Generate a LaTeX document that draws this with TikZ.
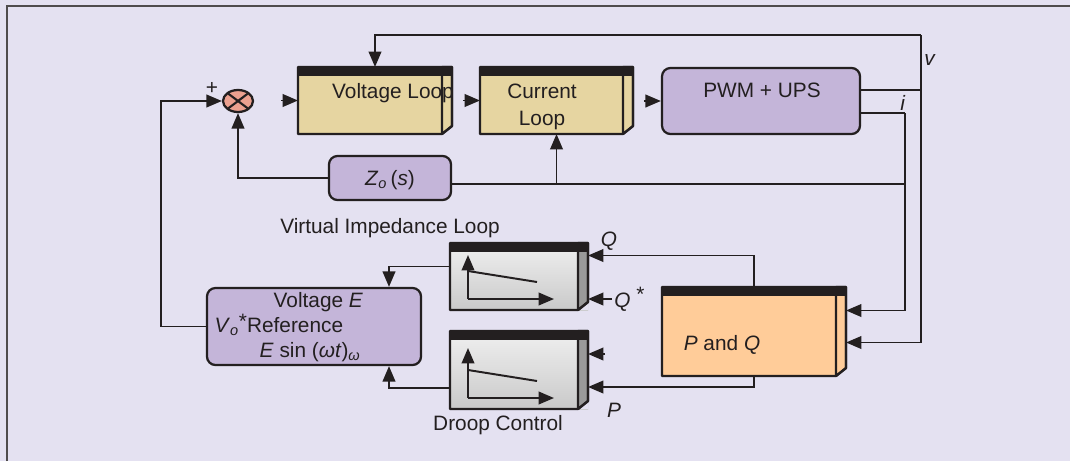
\documentclass[tikz,border=0pt]{standalone}
\usepackage{fontspec}
\setmainfont{Liberation Sans}
\usepackage{amsmath}
\usetikzlibrary{arrows.meta,positioning,calc,fit,shapes.geometric}
\definecolor{ink}{RGB}{35,31,32}
\definecolor{pagebg}{RGB}{228,225,241}
\definecolor{loopfill}{RGB}{230,213,161}
\definecolor{lilac}{RGB}{196,181,217}
\definecolor{peach}{RGB}{255,204,153}
\definecolor{salmon}{RGB}{235,160,143}
\definecolor{sidegray}{RGB}{154,154,154}
\tikzset{
  every picture/.style={color=ink, line width=1.4pt, font=\fontsize{14.8}{17.5}\selectfont},
  slab/.style={inner sep=0pt, outer sep=0pt},
  loopbox/.style={slab, fill=loopfill},
  droopbox/.style={slab, top color=gray!12, bottom color=gray!42},
  powerbox/.style={slab, fill=peach},
  softbox/.style={draw=ink, fill=lilac, rounded corners=6pt, line width=1.6pt, inner sep=0pt},
  sumnode/.style={ellipse, draw=ink, fill=salmon, line width=1.6pt, minimum width=0.75cm, minimum height=0.55cm, inner sep=0pt},
  arr/.style={-{Triangle[length=11pt,width=9pt]}, line width=1.4pt},
  wire/.style={line width=1.4pt},
  lbl/.style={inner sep=1pt},
}
% box with black top bar and a bevelled right side
\newcommand{\drawslab}[2]{%
  \fill[pagebg] (#1.south east) -- ($(#1.south east)+(0,-8)$) -- ($(#1.south east)+(-10,0)$) -- cycle;
  \filldraw[fill=#2, line width=1.6pt, line join=round] ($(#1.north east)+(-10,0)$) -- (#1.north east) -- ($(#1.south east)+(0,-8)$) -- ($(#1.south east)+(-10,0)$) -- cycle;
  \draw[line width=1.6pt, line join=round] (#1.north west) -- (#1.north east) -- ($(#1.south east)+(0,-8)$) -- ($(#1.south east)+(-10,0)$) -- (#1.south west) -- cycle;
  \fill (#1.north west) rectangle ($(#1.north east)+(0,9)$);
}

\begin{document}
\begin{tikzpicture}[x=0.025cm, y=-0.025cm]
  \useasboundingbox (0,0) rectangle (1070,461);
  \fill[pagebg] (0,0) rectangle (1070,461);
  \draw[line width=1pt, color=ink!80] (7,461) -- (7,6) -- (1070,6);

  % forward path
  \node[sumnode] (SJ) at (238,101) {};
  \draw[line width=1.5pt, shorten <=1.5pt, shorten >=1.5pt] (SJ.north west) -- (SJ.south east);
  \draw[line width=1.5pt, shorten <=1.5pt, shorten >=1.5pt] (SJ.north east) -- (SJ.south west);
  \node[loopbox, fit={(298,67) (452,134)}] (VL) {};
  \node[loopbox, fit={(480,67) (633,134)}] (CL) {};
  \node[softbox, fit={(662,68) (860,134)}] (PWM) {};
  \drawslab{VL}{loopfill}
  \drawslab{CL}{loopfill}
  \node (VLtext) at (393,93) {Voltage Loop};
  \node[align=center] (CLtext) at (542,107) {Current\\[2pt]Loop};
  \node (PWMtext) at (762,90) {PWM + UPS};

  % virtual impedance
  \node[softbox, fit={(329,156) (451,200)}] (Zo) {};
  \node (Zotext) at (390,180) {\textit{Z}\textsubscript{\textit{o}}\,(\textit{s})};
  \node (VIL) at (390,228) {Virtual Impedance Loop};

  % droop control and reference
  \node[softbox, fit={(207,288) (421,365)}] (VR) {};
  \node[anchor=west, align=left] (VRtext) at (209,327) {\hspace*{42pt}Voltage \textit{E}\\\textit{V}\textsubscript{\textit{o}}\raisebox{3pt}{*}Reference\\\hspace*{32pt}\textit{E} sin (\textit{ωt})\textsubscript{\textit{ω}}};
  \node[droopbox, fit={(450,243) (588,310)}] (D1) {};
  \node[droopbox, fit={(450,331) (588,409)}] (D2) {};
  \drawslab{D1}{sidegray}
  \drawslab{D2}{sidegray}
  \foreach \d/\h in {D1/44,D2/50} {
    \draw[arr] ($(\d.south west)+(18,-11)$) -- ++(0,-\h);
    \draw[arr] ($(\d.south west)+(18,-11)$) -- ++(86,0);
    \draw[wire] ($(\d.south west)+(18,-39)$) -- ++(69,11);
  }
  \node (DC) at (498,425) {Droop Control};
  \node[powerbox, fit={(662,287) (846,376)}] (PQ) {};
  \drawslab{PQ}{peach}
  \node (PQtext) at (722,345) {\textit{P} and \textit{Q}};

  % labels
  \node[lbl] (plus) at (212,88) {+};
  \node[lbl] (vlab) at (930,60) {\textit{v}};
  \node[lbl] (ilab) at (903,103) {\textit{i}};
  \node[lbl] (Qlab) at (609,241) {\textit{Q}};
  \node[lbl, anchor=west] (Qstar) at (612,299) {\textit{Q} \raisebox{4pt}{*}};
  \node[lbl] (Plab) at (614,410) {\textit{P}};

  % connectors
  \coordinate (vtop) at (921,35);
  \coordinate (vtap) at (921,90);
  \coordinate (itap) at (905,113);
  \coordinate (zbus) at (905,184);
  \draw[arr] (VR.west) -- ++(-45,0) |- (SJ.west);
  \draw[arr] ($(VL.west)+(-17,0)$) -- (VL.west);
  \draw[arr] ($(CL.west)+(-17,0)$) -- (CL.west);
  \draw[arr] ($(PWM.west)+(-17,0)$) -- (PWM.west);
  \draw[arr] (vtop) -| (VL.north);
  \draw[arr] (vtop) |- ($(PQ.east)+(0,11)$);
  \draw[wire] (PWM.east |- vtap) -- (vtap);
  \draw[wire] (PWM.east |- itap) -- (itap);
  \draw[arr] (itap) |- ($(PQ.east)+(0,-21)$);
  \draw[wire] (Zo.east |- zbus) -- (zbus);
  \draw[arr] (CL.south |- zbus) -- (CL.south);
  \draw[arr] (Zo.west) -| (SJ.south);
  \draw[arr] (PQ.north) |- ($(D1.east)+(0,-21)$);
  \draw[arr] (PQ.south) |- ($(D2.east)+(0,17)$);
  \draw[arr] (Qstar.west) -- (Qstar.west -| D1.east);
  \draw[arr] ($(D2.east)+(17,-16)$) -- ($(D2.east)+(0,-16)$);
  \draw[arr] ($(D1.west)+(0,-10)$) -| ($(VR.north)+(75,0)$);
  \draw[arr] ($(D2.west)+(0,18)$) -| ($(VR.south)+(75,0)$);
\end{tikzpicture}
\end{document}
